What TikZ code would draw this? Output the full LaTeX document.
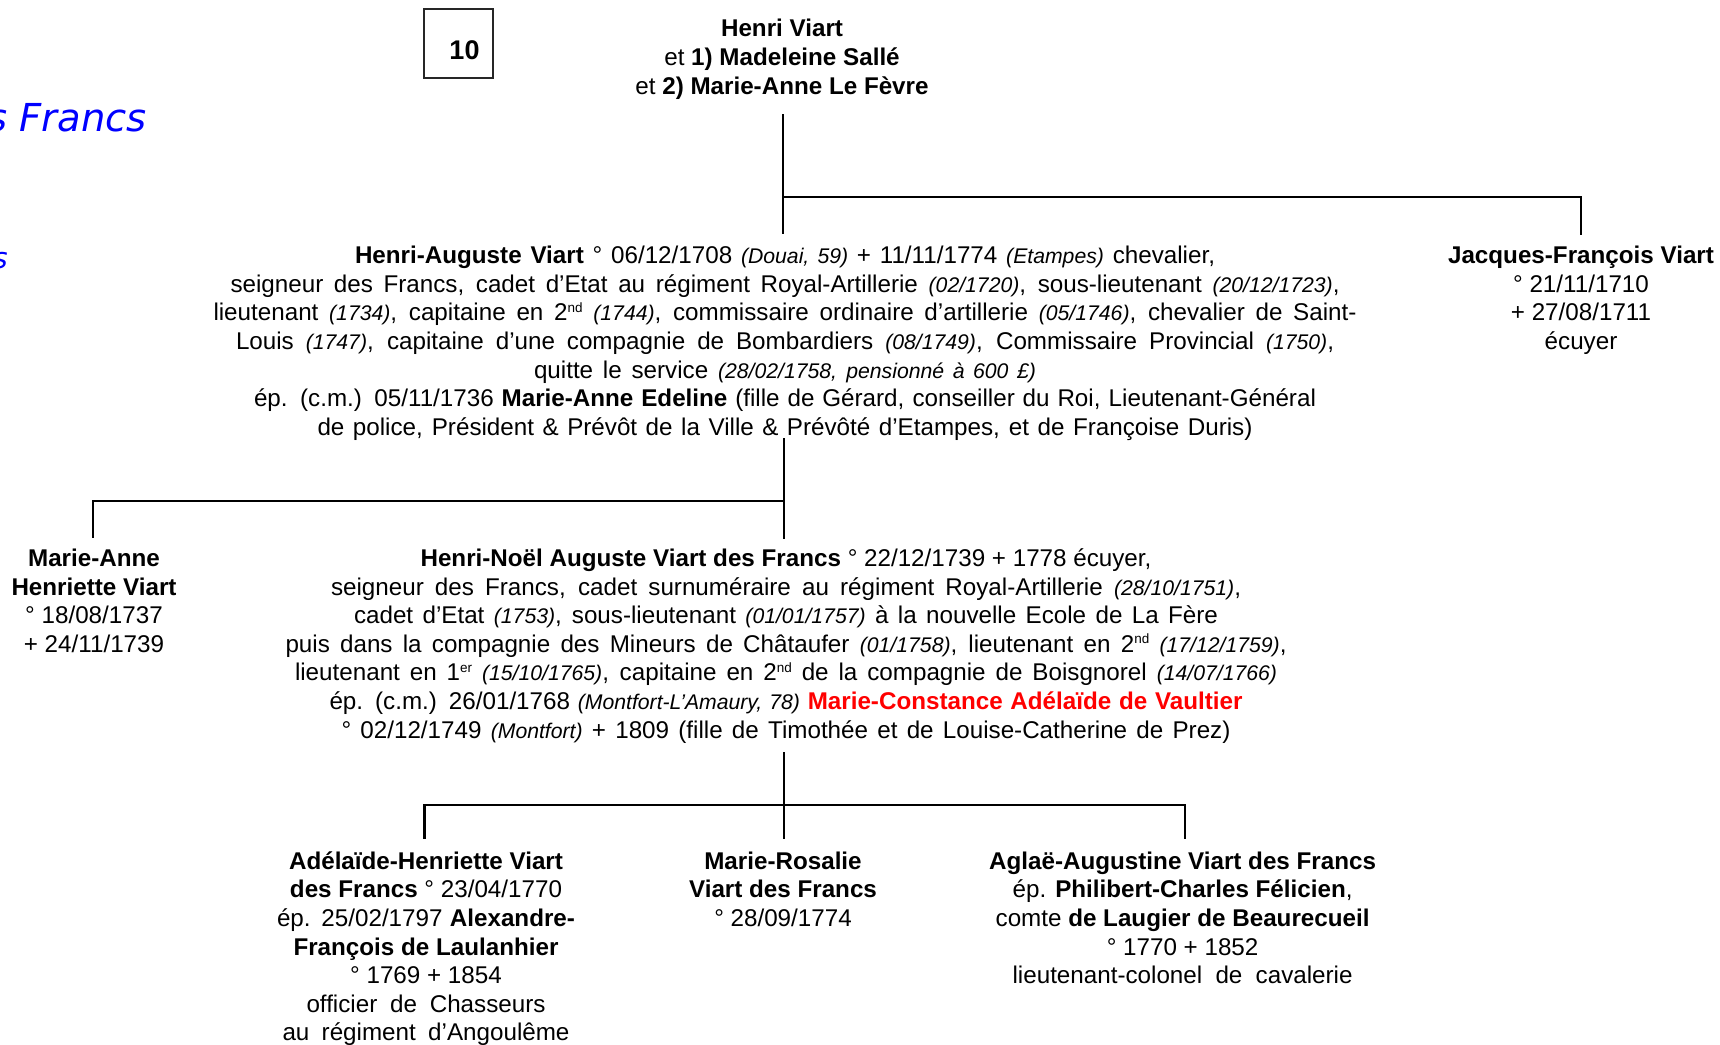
\documentclass[tikz,border=0pt]{standalone}
\usepackage{fontspec}
\setmainfont{Liberation Sans}
\newfontfamily\titlefont{DejaVu Sans}
\definecolor{titleblue}{RGB}{0,0,255}
\definecolor{namered}{RGB}{255,0,0}
\newcommand{\mainsize}{\fontsize{24.2}{28.65}\selectfont}
\newcommand{\dt}[1]{{\fontsize{21.2}{28.65}\selectfont\itshape #1}}
\newcommand{\sups}[1]{\raisebox{8.5pt}{\fontsize{13.5}{14}\selectfont #1}}
\newcommand{\jl}[2]{\makebox[#1pt][s]{#2}}
\tikzset{
  blk/.style={align=center, inner sep=0pt, outer sep=0pt, anchor=north, font=\mainsize},
  conn/.style={line width=2.4pt, line cap=rect},
}
\begin{document}
\begin{tikzpicture}[x=1pt, y=-1pt]
\fill[white] (0,0) rectangle (1720,1044);
\useasboundingbox (0,0) rectangle (1720,1044);

% title fragments
\node[anchor=base east, inner sep=0pt, text=titleblue, font=\titlefont\itshape\fontsize{38.5}{40}\selectfont] (title) at (147,131) {s Francs};
\node[anchor=base east, inner sep=0pt, text=titleblue, font=\titlefont\itshape\fontsize{29}{30}\selectfont] (subtitle) at (8,268) {s};

% number box
\node[draw=black!85, line width=1.3pt, minimum width=69pt, minimum height=69pt, inner sep=0pt] (box) at (458.5,43.5) {};
\node[anchor=base, inner sep=0pt, font=\fontsize{27}{30}\selectfont\bfseries] (num) at (464.5,59) {10};

% generation 1
\node[blk] (hv) at (782,16.7) {\strut\textbf{Henri Viart}\\
\strut et \textbf{1) Madeleine Sallé}\\
\strut et \textbf{2) Marie-Anne Le Fèvre}};

% generation 2
\node[blk] (ha) at (785,243.5) {\strut\jl{860}{\textbf{Henri-Auguste Viart} ° 06/12/1708 \dt{(Douai, 59)} + 11/11/1774 \dt{(Etampes)} chevalier,}\\
\strut\jl{1109}{seigneur des Francs, cadet d’Etat au régiment Royal-Artillerie \dt{(02/1720)}, sous-lieutenant \dt{(20/12/1723)},}\\
\strut\jl{1143}{lieutenant \dt{(1734)}, capitaine en 2\sups{nd} \dt{(1744)}, commissaire ordinaire d’artillerie \dt{(05/1746)}, chevalier de Saint-}\\
\strut\jl{1098}{Louis \dt{(1747)}, capitaine d’une compagnie de Bombardiers \dt{(08/1749)}, Commissaire Provincial \dt{(1750)},}\\
\strut\jl{502}{quitte le service \dt{(28/02/1758, pensionné à 600 £)}}\\
\strut\jl{1062}{ép. (c.m.) 05/11/1736 \textbf{Marie-Anne Edeline} (fille de Gérard, conseiller du Roi, Lieutenant-Général}\\
\strut\jl{935}{de police, Président \& Prévôt de la Ville \& Prévôté d’Etampes, et de Françoise Duris)}};

\node[blk] (jf) at (1581,243.5) {\strut\textbf{Jacques-François Viart}\\
\strut ° 21/11/1710\\
\strut + 27/08/1711\\
\strut écuyer};

% generation 3
\node[blk] (ma) at (94,546.3) {\strut\textbf{Marie-Anne}\\
\strut\textbf{Henriette Viart}\\
\strut ° 18/08/1737\\
\strut + 24/11/1739};

\node[blk] (hn) at (786,546.3) {\strut\textbf{Henri-Noël Auguste Viart des Francs} ° 22/12/1739 + 1778 écuyer,\\
\strut\jl{910}{seigneur des Francs, cadet surnuméraire au régiment Royal-Artillerie \dt{(28/10/1751)},}\\
\strut\jl{864}{cadet d’Etat \dt{(1753)}, sous-lieutenant \dt{(01/01/1757)} à la nouvelle Ecole de La Fère}\\
\strut\jl{1001}{puis dans la compagnie des Mineurs de Châtaufer \dt{(01/1758)}, lieutenant en 2\sups{nd} \dt{(17/12/1759)},}\\
\strut\jl{982}{lieutenant en 1\sups{er} \dt{(15/10/1765)}, capitaine en 2\sups{nd} de la compagnie de Boisgnorel \dt{(14/07/1766)}}\\
\strut\jl{913}{ép. (c.m.) 26/01/1768 \dt{(Montfort-L’Amaury, 78)} \textcolor{namered}{\textbf{Marie-Constance Adélaïde de Vaultier}}}\\
\strut\jl{889}{° 02/12/1749 \dt{(Montfort)} + 1809 (fille de Timothée et de Louise-Catherine de Prez)}};

% generation 4
\node[blk] (ah) at (426,849) {\strut\textbf{Adélaïde-Henriette Viart}\\
\strut\textbf{des Francs} ° 23/04/1770\\
\strut\jl{298}{ép. 25/02/1797 \textbf{Alexandre-}}\\
\strut\textbf{François de Laulanhier}\\
\strut ° 1769 + 1854\\
\strut\jl{239}{officier de Chasseurs}\\
\strut\jl{287}{au régiment d’Angoulême}};

\node[blk] (mr) at (783,849) {\strut\textbf{Marie-Rosalie}\\
\strut\textbf{Viart des Francs}\\
\strut ° 28/09/1774};

\node[blk] (aa) at (1182.6,849) {\strut\textbf{Aglaë-Augustine Viart des Francs}\\
\strut ép. \textbf{Philibert-Charles Félicien},\\
\strut comte \textbf{de Laugier de Beaurecueil}\\
\strut ° 1770 + 1852\\
\strut\jl{340}{lieutenant-colonel de cavalerie}};

% connector coordinates
\coordinate (hvb) at (783,115);
\coordinate (hat) at (783,233);
\coordinate (j1) at (783,197);
\coordinate (jft) at (1581,234);
\coordinate (hab) at (784,439);
\coordinate (hnt) at (784,538);
\coordinate (j2) at (784,501);
\coordinate (mat) at (93,537);
\coordinate (hnb) at (784,753);
\coordinate (mrt) at (784,838);
\coordinate (j3) at (784,805);
\coordinate (aht) at (424.5,838);
\coordinate (aat) at (1185,838);

\draw[conn] (hvb) -- (hat);
\draw[conn] (j1) -| (jft);
\draw[conn] (hab) -- (hnt);
\draw[conn] (j2) -| (mat);
\draw[conn] (hnb) -- (mrt);
\draw[conn] (aht) |- (j3) -| (aat);
\end{tikzpicture}
\end{document}
